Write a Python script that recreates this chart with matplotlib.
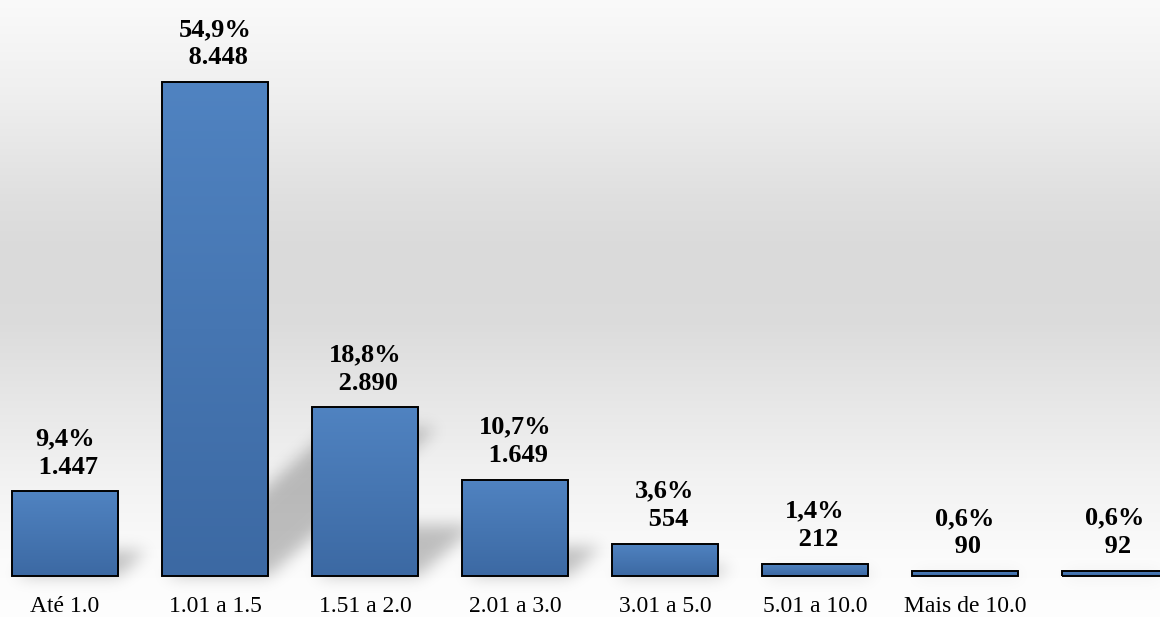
import numpy as np
import matplotlib
matplotlib.use("Agg")
import matplotlib.pyplot as plt
from matplotlib.path import Path
from matplotlib.colors import LinearSegmentedColormap
from matplotlib.transforms import blended_transform_factory

categories = ["Até 1.0", "1.01 a 1.5", "1.51 a 2.0", "2.01 a 3.0",
              "3.01 a 5.0", "5.01 a 10.0", "Mais de 10.0", ""]
counts = [1447, 8448, 2890, 1649, 554, 212, 90, 92]
pct_labels = ["9,4%", "54,9%", "18,8%", "10,7%", "3,6%", "1,4%", "0,6%", "0,6%"]

W, H = 1160, 617
fig = plt.figure(figsize=(W / 100, H / 100), dpi=100)
ax = fig.add_axes([0, 0, 1, 1])
XLIM = (-0.4333, 7.3)
YLIM = (-701, 9850)
ax.set_xlim(*XLIM)
ax.set_ylim(*YLIM)
ax.axis("off")

# background: light -> grey -> light, top to bottom
ys = np.array([0, 100, 200, 250, 320, 400, 480, 560, 617]) / H
vs = np.array([0.98, 0.935, 0.875, 0.855, 0.86, 0.905, 0.95, 0.985, 0.995])
col = np.interp(np.linspace(0, 1, H), ys, vs)
bg = np.repeat(col[:, None], 4, axis=1)
ax.imshow(np.dstack([bg, bg, bg]), extent=(*XLIM, *YLIM),
          aspect="auto", origin="upper", zorder=0, interpolation="bilinear")

x = np.arange(len(categories))
width = 0.713

# soft skewed shadows behind the bars
gx, gy = np.meshgrid(np.arange(W) + 0.5, np.arange(H) + 0.5)
pts = np.column_stack([gx.ravel(), gy.ravel()])
mask = np.zeros(H * W)
for xi, v in zip(x, counts):
    (l, b), (r, t) = ax.transData.transform([(xi - width / 2, 0), (xi + width / 2, v)])
    h = t - b
    poly = Path([(l + 4, b), (r, b), (r + 0.34 * h, b + 0.3 * h),
                 (l + 4 + 0.34 * h, b + 0.3 * h)])
    mask = np.maximum(mask, poly.contains_points(pts))
mask = mask.reshape(H, W)
k = np.exp(-0.5 * (np.arange(-24, 25) / 8.0) ** 2)
k /= k.sum()
mask = np.apply_along_axis(lambda m: np.convolve(m, k, mode="same"), 1, mask)
mask = np.apply_along_axis(lambda m: np.convolve(m, k, mode="same"), 0, mask)
shadow = np.zeros((H, W, 4))
shadow[..., 3] = mask * 0.24
fig_ext = ax.transData.inverted().transform([(0, 0), (W, H)])
ax.imshow(shadow, extent=(fig_ext[0, 0], fig_ext[1, 0], fig_ext[0, 1], fig_ext[1, 1]),
          origin="lower", aspect="auto", zorder=1)

# bars with vertical blue gradient
bars = ax.bar(x, counts, width=width, color="#4677b2", edgecolor="black",
              linewidth=1.4, zorder=2)
cmap = LinearSegmentedColormap.from_list("bar", ["#3c69a3", "#5083c1"])
grad = np.linspace(0, 1, 256)[:, None]
for bar in bars:
    bx, by = bar.get_x(), bar.get_y()
    im = ax.imshow(grad, cmap=cmap, extent=(bx, bx + bar.get_width(), by, by + bar.get_height()),
                   origin="lower", aspect="auto", zorder=2.5)
    im.set_clip_path(bar)
    bar.set_facecolor("none")
    bar.set_zorder(3)

ax.set_xlim(*XLIM)
ax.set_ylim(*YLIM)

for xi, v, p in zip(x, counts, pct_labels):
    count_txt = f"{v:,}".replace(",", ".")
    ax.annotate(p + "\n " + count_txt,
                xy=(xi, v), xytext=(0, 9), textcoords="offset points",
                ha="center", va="bottom", fontsize=19, fontweight="bold",
                family="Liberation Serif", linespacing=1.3, zorder=4)

trans = blended_transform_factory(ax.transData, ax.transAxes)
for xi, c in zip(x, categories):
    ax.text(xi, 11 / H, c, transform=trans, ha="center", va="center",
            fontsize=17, family="Liberation Serif", zorder=4)

fig.savefig("out.png", dpi=100)
